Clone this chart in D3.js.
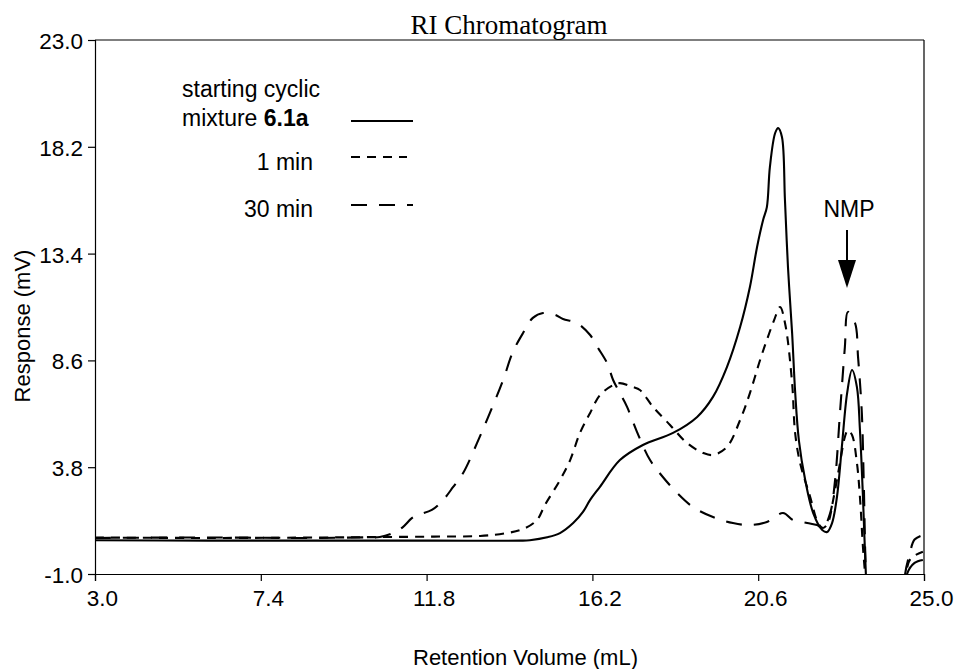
<!DOCTYPE html>
<html>
<head>
<meta charset="utf-8">
<script src="https://cdn.jsdelivr.net/npm/d3@7"></script>
<style>
  html, body { margin: 0; padding: 0; background: #fff; }
  svg { display: block; }
  text { font-family: "Liberation Sans", Arial, sans-serif; fill: #000; }
</style>
</head>
<body>
<svg id="chart" width="955" height="669"></svg>
<script>
// ---- data ----
const xTicks = [3.0, 7.4, 11.8, 16.2, 20.6, 25.0];
const yTicks = [-1.0, 3.8, 8.6, 13.4, 18.2, 23.0];

const startingMixture = [
  [3.0,0.52],[6,0.5],[9,0.5],[12,0.5],[14.3,0.5],[14.54,0.52],[15.0,0.65],[15.34,0.84],
  [15.69,1.29],[15.95,1.79],[16.14,2.33],[16.40,2.92],[16.93,4.12],[17.54,4.80],[18.34,5.34],
  [18.98,6.06],[19.40,6.96],[19.77,8.30],[20.12,10.10],[20.38,11.90],[20.57,13.70],[20.73,14.91],
  [20.83,15.49],[20.91,17.29],[21.05,18.82],[21.13,19.04],[21.23,18.64],[21.31,15.81],[21.39,12.80],
  [21.50,9.83],[21.58,7.2],[21.68,5.0],[21.85,3.2],[22.06,1.74],[22.30,0.98],[22.43,0.89],
  [22.56,1.29],[22.69,2.46],[22.82,4.71],[22.96,7.13],[23.09,8.17],[23.22,7.40],[23.30,5.47],
  [23.38,2.46],[23.46,-1.13],[23.55,-4],[24.45,-4],[24.55,-1.0],[24.75,-0.5],[24.97,-0.37]
];

const oneMin = [
  [3.0,0.64],[6,0.62],[9,0.64],[10.56,0.66],[12,0.68],[13.22,0.71],[13.93,0.84],[14.36,1.02],
  [14.73,1.43],[14.94,2.10],[15.34,3.22],[15.61,4.12],[15.87,5.34],[16.14,6.24],[16.40,7.04],
  [16.75,7.49],[16.93,7.58],[17.28,7.40],[17.46,7.27],[17.81,6.51],[18.26,5.70],[18.71,4.89],
  [19.14,4.44],[19.40,4.35],[19.77,4.71],[20.12,5.92],[20.38,7.13],[20.65,8.62],[20.83,9.52],
  [21.02,10.4],[21.18,11.0],[21.32,10.2],[21.50,7.58],[21.58,5.34],[21.71,4.0],[21.98,2.46],
  [22.19,1.29],[22.32,1.07],[22.45,1.29],[22.59,2.33],[22.77,3.99],[22.90,5.16],[22.98,5.47],
  [23.09,5.25],[23.22,3.99],[23.30,2.46],[23.38,0.21],[23.44,-1.13],[23.53,-4],[24.42,-4],
  [24.52,-1.0],[24.65,-0.3],[24.97,0.0]
];

const thirtyMin = [
  [3.0,0.62],[6,0.64],[9,0.62],[10.2,0.65],[10.56,0.66],[10.91,0.84],[11.17,1.11],[11.40,1.5],
  [11.55,1.65],[11.94,1.88],[12.24,2.33],[12.50,2.9],[12.77,3.54],[13.14,4.89],[13.48,6.24],
  [13.83,7.72],[14.09,8.98],[14.36,9.83],[14.62,10.51],[14.89,10.73],[15.20,10.65],[15.42,10.46],
  [15.79,10.28],[16.14,9.74],[16.35,9.16],[16.59,8.48],[16.75,7.72],[16.93,7.13],[17.12,6.51],
  [17.38,5.40],[17.73,4.12],[18.07,3.36],[18.45,2.64],[18.87,2.01],[19.40,1.56],[19.93,1.29],
  [20.38,1.20],[20.83,1.34],[21.26,1.74],[21.52,1.43],[21.90,1.29],[22.16,1.20],[22.32,1.07],
  [22.51,1.74],[22.64,3.22],[22.77,6.24],[22.90,9.20],[22.98,10.78],[23.17,10.28],[23.25,8.75],
  [23.35,6.24],[23.40,3.22],[23.46,-1.13],[23.55,-4],[24.40,-4],[24.50,-1.0],[24.62,-0.1],
  [24.75,0.55],[24.97,0.75]
];

const seriesNames = ["starting cyclic mixture 6.1a", "1 min", "30 min"];

// ---- layout ----
const svg = d3.select("#chart");
const plot = { left: 95, right: 924, top: 40, bottom: 574 };

const x = d3.scaleLinear().domain([3.0, 25.0]).range([plot.left, plot.right]);
const y = d3.scaleLinear().domain([-1.0, 23.0]).range([plot.bottom, plot.top]);

const fmt = d => d.toFixed(1);  // plain hyphen-minus like the reference

svg.append("defs").append("clipPath").attr("id", "plotClip")
  .append("rect")
  .attr("x", plot.left).attr("y", plot.top)
  .attr("width", plot.right - plot.left).attr("height", plot.bottom - plot.top);

// frame (top and right lines)
svg.append("line").attr("x1", plot.left).attr("x2", plot.right)
  .attr("y1", plot.top).attr("y2", plot.top).attr("stroke", "#000").attr("stroke-width", 1.2);
svg.append("line").attr("x1", plot.right).attr("x2", plot.right)
  .attr("y1", plot.top).attr("y2", plot.bottom).attr("stroke", "#000").attr("stroke-width", 1.2);

// axes
const xAxis = d3.axisBottom(x).tickValues(xTicks).tickSize(7).tickPadding(9).tickFormat(fmt);
const gx = svg.append("g").attr("transform", `translate(0,${plot.bottom})`).call(xAxis);
gx.selectAll("text").attr("font-size", "22.5px").attr("dx", "7");

const yAxis = d3.axisLeft(y).tickValues(yTicks).tickSize(7).tickPadding(5).tickFormat(fmt);
const gy = svg.append("g").attr("transform", `translate(${plot.left},0)`).call(yAxis);
gy.selectAll("text").attr("font-size", "22.5px").attr("dy", "0.38em");

[gx, gy].forEach(g => {
  g.select(".domain").attr("stroke", "#000").attr("stroke-width", 1.2);
  g.selectAll(".tick line").attr("stroke", "#000").attr("stroke-width", 1.2);
  g.selectAll("text").attr("fill", "#000")
    .style("font-family", '"Liberation Sans", Arial, sans-serif');
});

// lines
const line = d3.line()
  .x(d => x(d[0])).y(d => y(d[1]))
  .curve(d3.curveCatmullRom.alpha(0.5));

const styles = [
  { data: startingMixture, dash: null },
  { data: oneMin, dash: "9,7" },
  { data: thirtyMin, dash: "16,12" }
];

const gLines = svg.append("g").attr("clip-path", "url(#plotClip)");
styles.forEach(s => {
  gLines.append("path")
    .datum(s.data)
    .attr("d", line)
    .attr("fill", "none")
    .attr("stroke", "#000")
    .attr("stroke-width", 2.1)
    .attr("stroke-linejoin", "round")
    .attr("stroke-dasharray", s.dash);
});

// title
svg.append("text")
  .attr("x", 509).attr("y", 34)
  .attr("text-anchor", "middle")
  .style("font-family", '"Liberation Serif", "Times New Roman", serif')
  .attr("font-size", "27px")
  .text("RI Chromatogram");

// axis titles
svg.append("text")
  .attr("x", 413).attr("y", 665)
  .attr("font-size", "22px")
  .text("Retention Volume (mL)");

svg.append("text")
  .attr("transform", "translate(30,326) rotate(-90)")
  .attr("text-anchor", "middle")
  .attr("font-size", "22px")
  .text("Response (mV)");

// legend
const leg = svg.append("g");
leg.append("text").attr("x", 182).attr("y", 97).attr("font-size", "23px").text("starting cyclic");
const t2 = leg.append("text").attr("x", 182).attr("y", 126).attr("font-size", "23px");
t2.append("tspan").text("mixture ");
t2.append("tspan").attr("font-weight", "bold").text("6.1a");
leg.append("text").attr("x", 313).attr("y", 170).attr("font-size", "23px")
  .attr("text-anchor", "end").text(seriesNames[1]);
leg.append("text").attr("x", 313).attr("y", 217).attr("font-size", "23px")
  .attr("text-anchor", "end").text(seriesNames[2]);

const legLines = [
  { y: 121, x2: 413, dash: null },
  { y: 157, x2: 407, dash: "9,7" },
  { y: 205, x2: 413, dash: "16,12" }
];
legLines.forEach(l => {
  leg.append("line").attr("x1", 351).attr("x2", l.x2).attr("y1", l.y).attr("y2", l.y)
    .attr("stroke", "#000").attr("stroke-width", 2.1).attr("stroke-dasharray", l.dash);
});

// NMP annotation
svg.append("text").attr("x", 849).attr("y", 217).attr("text-anchor", "middle")
  .attr("font-size", "23px").text("NMP");
svg.append("line").attr("x1", 847).attr("x2", 847).attr("y1", 230).attr("y2", 264)
  .attr("stroke", "#000").attr("stroke-width", 2);
svg.append("path").attr("d", "M838,260 L856,260 L847,288 Z").attr("fill", "#000");
</script>
</body>
</html>
